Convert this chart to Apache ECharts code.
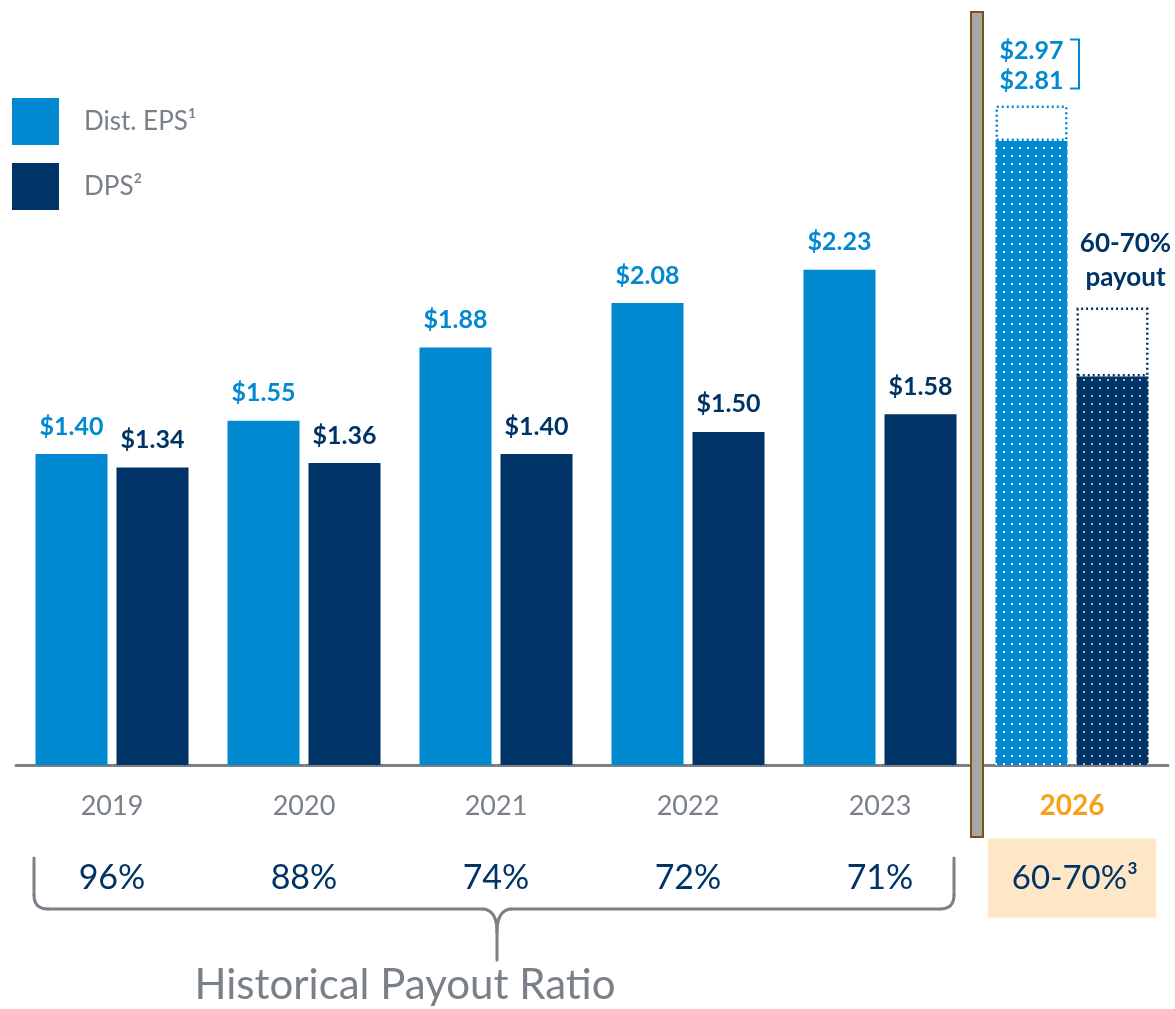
<!DOCTYPE html>
<html><head><meta charset="utf-8">
<script src="https://cdn.jsdelivr.net/npm/echarts@6/dist/echarts.min.js"></script>
<style>html,body{margin:0;padding:0;background:#fff}#c{width:1175px;height:1009px}</style>
</head><body><div id="c"></div>
<script>
// ---- data ----
const categories = ['2019', '2020', '2021', '2022', '2023', '2026'];
const distEPS = [1.40, 1.55, 1.88, 2.08, 2.23, 2.81];   // 2026 = low end of range
const dps = [1.34, 1.36, 1.40, 1.50, 1.58, 1.75];        // 2026 = low end (estimated)
const epsHigh2026 = 2.97;
const dpsHigh2026 = 2.06;
const payoutRatios = ['96%', '88%', '74%', '72%', '71%', '60-70%³'];
const legendNames = ['Dist. EPS¹', 'DPS²'];

// ---- style ----
const BLUE = '#0089d1', NAVY = '#003366', GRAY = '#7a8088', ORANGE = '#f7a11a', PEACH = '#fde7c6';
const FONT = 'Lato, "Noto Sans", sans-serif';

function dotPattern(bg, dot) {
  const c = document.createElement('canvas');
  c.width = 8; c.height = 8;
  const g = c.getContext('2d');
  g.fillStyle = bg; g.fillRect(0, 0, 8, 8);
  g.fillStyle = dot; g.fillRect(3, 3, 2, 2);
  return { image: c, repeat: 'repeat' };
}

const last = categories.length - 1;
const money = v => '$' + v.toFixed(2);

const epsData = distEPS.map((v, i) => i === last
  ? { value: v, itemStyle: { color: dotPattern(BLUE, '#ffffff') }, label: { show: false } }
  : v);
const dpsData = dps.map((v, i) => i === last
  ? { value: v, itemStyle: { color: dotPattern(NAVY, '#a9b9cc') }, label: { show: false } }
  : v);
const epsExt = categories.map((c, i) => i === last ? +(epsHigh2026 - distEPS[last]).toFixed(2) : null);
const dpsExt = categories.map((c, i) => i === last ? +(dpsHigh2026 - dps[last]).toFixed(2) : null);

const chart = echarts.init(document.getElementById('c'), null, { renderer: 'canvas' });

const option = {
  animation: false,
  backgroundColor: '#ffffff',
  textStyle: { fontFamily: FONT },
  grid: { left: 16, right: 7, top: 10, bottom: 244, containLabel: false },
  legend: {
    data: legendNames,
    orient: 'vertical',
    left: 12, top: 98, padding: 0,
    itemWidth: 47, itemHeight: 47, itemGap: 18,
    icon: 'rect',
    selectedMode: false,
    textStyle: { color: GRAY, fontSize: 26, fontFamily: FONT, padding: [0, 0, 0, 20] }
  },
  xAxis: [{
    type: 'category',
    data: categories,
    axisLine: { lineStyle: { color: GRAY, width: 3 } },
    axisTick: { show: false },
    axisLabel: {
      interval: 0,
      color: GRAY, fontSize: 27, margin: 41, verticalAlign: 'middle', fontFamily: FONT,
      formatter: v => v === categories[last] ? '{o|' + v + '}' : v,
      rich: { o: { color: ORANGE, fontWeight: 'bold', fontSize: 28, fontFamily: FONT } }
    }
  }, {
    type: 'category',
    data: categories,
    position: 'bottom',
    axisLine: { show: false },
    axisTick: { show: false },
    axisLabel: {
      interval: 0, hideOverlap: false,
      color: NAVY, fontSize: 34, margin: 113, verticalAlign: 'middle', fontFamily: FONT,
      formatter: (v, i) => i === last ? '{b|' + payoutRatios[i] + '}' : payoutRatios[i],
      rich: { b: { backgroundColor: PEACH, color: NAVY, fontSize: 33, fontFamily: FONT,
                   padding: [23, 18, 23, 24] } }
    }
  }],
  yAxis: { type: 'value', min: 0, max: 3.4, show: false, splitLine: { show: false } },
  series: [{
    name: legendNames[0], type: 'bar', stack: 'eps', data: epsData,
    barWidth: 72, barGap: '12.5%',
    itemStyle: { color: BLUE },
    label: { show: true, position: 'top', distance: 15, color: BLUE, fontSize: 25,
             fontWeight: 'bold', fontFamily: FONT, formatter: p => money(p.value) }
  }, {
    name: 'epsRange', type: 'bar', stack: 'eps', data: epsExt, barWidth: 72,
    itemStyle: { color: '#ffffff', borderColor: BLUE, borderWidth: 2.5, borderType: [2, 3] },
    label: { show: true, position: 'top', distance: 10, lineHeight: 30, color: BLUE, fontSize: 25,
             fontWeight: 'bold', fontFamily: FONT,
             formatter: () => money(epsHigh2026) + '\n' + money(distEPS[last]) }
  }, {
    name: legendNames[1], type: 'bar', stack: 'dps', data: dpsData, barWidth: 72,
    itemStyle: { color: NAVY },
    label: { show: true, position: 'top', distance: 15, color: NAVY, fontSize: 25,
             fontWeight: 'bold', fontFamily: FONT, formatter: p => money(p.value) }
  }, {
    name: 'dpsRange', type: 'bar', stack: 'dps', data: dpsExt, barWidth: 72,
    itemStyle: { color: '#ffffff', borderColor: NAVY, borderWidth: 2.5, borderType: [2, 3] },
    label: { show: true, position: 'top', distance: 13, lineHeight: 34, color: NAVY, fontSize: 26,
             fontWeight: 'bold', fontFamily: FONT, offset: [13, 0],
             formatter: () => '60-70%\npayout' }
  }]
};
chart.setOption(option);

// annotations positioned from the axes
const top26 = chart.convertToPixel({ xAxisIndex: 0, yAxisIndex: 0 }, [categories[last], epsHigh2026]);
const sepX = chart.convertToPixel({ xAxisIndex: 0 }, categories[last]) - 96 + 1; // boundary 2023|2026
const bx = top26[0], by = top26[1];
const braceStyle = { stroke: GRAY, lineWidth: 3, fill: null, lineCap: 'round' };
const seg = (shape, type) => ({ type: type || 'line', z: 10, shape: shape, style: braceStyle });
chart.setOption({
  graphic: [
    { type: 'rect', z: 10, shape: { x: sepX - 6, y: 12, width: 12, height: 825 },
      style: { fill: '#a6a6a6', stroke: '#7b5214', lineWidth: 2 } },
    { type: 'polyline', z: 10, shape: { points: [[bx - 2, by - 66], [bx + 7, by - 66], [bx + 7, by - 17], [bx - 2, by - 17]] },
      style: { stroke: BLUE, lineWidth: 2, fill: null } },
    // curly brace under historical years
    seg({ x1: 34, y1: 858, x2: 34, y2: 895 }),
    seg({ x1: 34, y1: 895, cpx1: 34, cpy1: 909, x2: 48, y2: 909 }, 'bezierCurve'),
    seg({ x1: 48, y1: 909, x2: 483, y2: 909 }),
    seg({ x1: 483, y1: 909, cpx1: 497, cpy1: 910, x2: 497, y2: 932 }, 'bezierCurve'),
    seg({ x1: 497, y1: 932, x2: 497, y2: 960 }),
    seg({ x1: 511, y1: 909, cpx1: 497, cpy1: 910, x2: 497, y2: 932 }, 'bezierCurve'),
    seg({ x1: 511, y1: 909, x2: 940, y2: 909 }),
    seg({ x1: 954, y1: 895, cpx1: 954, cpy1: 909, x2: 940, y2: 909 }, 'bezierCurve'),
    seg({ x1: 954, y1: 858, x2: 954, y2: 895 }),
    { type: 'text', z: 10, x: 405, y: 985,
      style: { text: 'Historical Payout Ratio', fill: GRAY, fontSize: 42, fontFamily: FONT,
               align: 'center', verticalAlign: 'middle' } }
  ]
});
</script>
</body></html>
